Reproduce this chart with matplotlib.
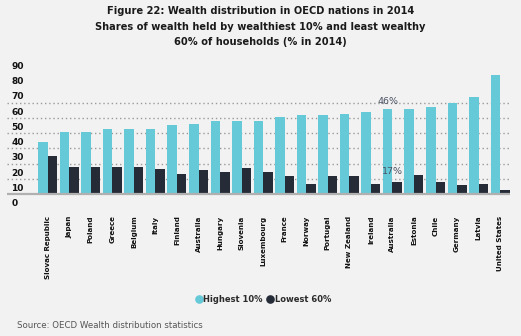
import matplotlib
matplotlib.use("Agg")
import matplotlib.pyplot as plt
import numpy as np
from matplotlib.lines import Line2D

COUNTRIES = ["Slovac Republic", "Japan", "Poland", "Greece", "Belgium", "Italy", "Finland",
             "Australia", "Hungary", "Slovenia", "Luxembourg", "France", "Norway", "Portugal",
             "New Zealand", "Ireland", "Australia", "Estonia", "Chile", "Germany", "Latvia",
             "United States"]
HIGHEST_10 = [34.2, 40.8, 40.8, 42.8, 42.8, 42.8, 45.4, 46.1, 48.0, 48.0, 48.0, 50.6, 51.9, 51.9,
              52.5, 53.9, 55.8, 55.8, 57.1, 59.8, 63.7, 78.1]
LOWEST_60 = [25.1, 17.9, 17.9, 17.9, 17.9, 16.6, 13.3, 15.9, 14.6, 17.2, 14.6, 12.0, 6.8, 12.0,
             12.0, 6.8, 8.1, 12.7, 8.1, 6.1, 6.8, 2.8]
YLABELS = [0, 10, 20, 30, 40, 50, 60, 70, 80, 90]
GRID_VALUES = [10, 20, 30, 40, 50, 60]

CYAN = "#66C9D8"
DARK = "#252B37"
BG = "#F2F2F2"

fig = plt.figure(figsize=(5.21, 3.36), dpi=100, facecolor=BG)
ax = fig.add_axes([0.0134, 0.381, 0.9656, 0.4407], facecolor=BG)

x = np.arange(len(COUNTRIES))
w = 0.44
ax.bar(x - w / 2, HIGHEST_10, w, color=CYAN, zorder=3)
ax.bar(x + w / 2, LOWEST_60, w, color=DARK, zorder=3)

for g in GRID_VALUES:
    ax.axhline(g, color="#9a9a9a", lw=1.0, ls=(0, (1, 2)), zorder=1)
ax.axhline(0, color="#b0b0b0", lw=1.6, zorder=4)

ax.set_xlim(-1.89, 21.46)
ax.set_ylim(-9, 88)
for s in ax.spines.values():
    s.set_visible(False)

# tick labels sit half a step below their gridline in the original
ax.set_yticks([v - 5.5 for v in YLABELS])
ax.set_yticklabels([str(v) for v in YLABELS], fontsize=6.5, fontweight="bold", color="#111111")
for lab in ax.get_yticklabels():
    lab.set_ha("left")
ax.tick_params(axis="y", length=0, pad=-3)

ax.set_xticks(x)
ax.set_xticklabels(COUNTRIES, rotation=90, fontsize=5.1, fontweight="bold", color="#111111", va="top")
ax.tick_params(axis="x", length=0, pad=5.5)

# annotations from the source figure
ax.text(x[16] - 0.2, 60.8, "46%", ha="center", va="center", fontsize=6.8, color="#4a5262")
ax.text(x[16], 14.6, "17%", ha="center", va="center", fontsize=6.8, color="#4a5262")

title_kw = dict(ha="center", va="center", fontsize=7.1, fontweight="bold", color="#1a1a1a")
fig.text(0.5, 1 - 11.5 / 336, "Figure 22: Wealth distribution in OECD nations in 2014", **title_kw)
fig.text(0.5, 1 - 26.7 / 336, "Shares of wealth held by wealthiest 10% and least wealthy", **title_kw)
fig.text(0.5, 1 - 42.3 / 336, "60% of households (% in 2014)", **title_kw)

handles = [Line2D([], [], marker="o", ls="", color=CYAN, markersize=5.2),
           Line2D([], [], marker="o", ls="", color=DARK, markersize=5.2)]
leg = fig.legend(handles, ["Highest 10%", "Lowest 60%"], loc="center", ncol=2,
                 bbox_to_anchor=(263 / 521, 1 - 299 / 336), frameon=False,
                 handletextpad=0.0, columnspacing=0.4, handlelength=1.0,
                 prop={"size": 6, "weight": "bold"})
for t in leg.get_texts():
    t.set_color("#2a2a2a")

fig.text(17 / 521, 1 - 326 / 336, "Source: OECD Wealth distribution statistics",
         ha="left", va="center", fontsize=6.2, color="#555555")

fig.savefig("out.png", dpi=100, facecolor=BG)
